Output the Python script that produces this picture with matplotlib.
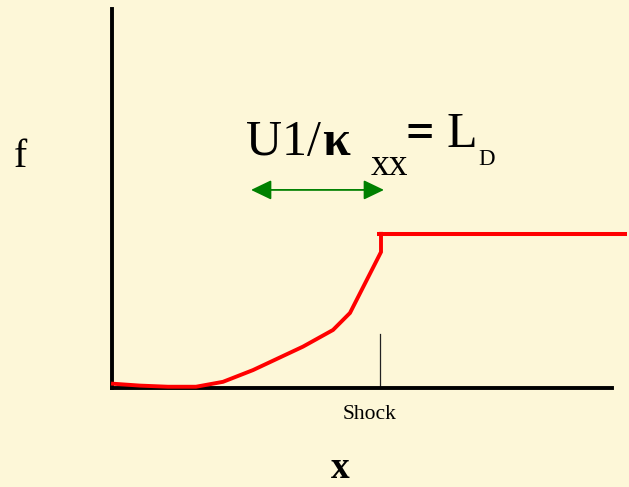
import matplotlib
matplotlib.use("Agg")
import matplotlib.pyplot as plt

# ---- data (axis units: x 0..10 across the x axis, f 0..1 up the f axis) ----
x_vals = [0.02, 0.56, 1.12, 1.68, 2.22, 2.82, 3.82, 4.42, 4.76, 5.38, 5.38]
f_vals = [0.010, 0.005, 0.002, 0.002, 0.015, 0.046, 0.108, 0.152, 0.197, 0.358, 0.406]
plateau_x = [5.30, 10.3]
plateau_f = [0.406, 0.406]
shock_x = 5.36
shock_tick_top = 0.142
arrow_left = 2.78
arrow_right = 5.44
arrow_y = 0.522

W, H = 629, 487
BG = "#fdf7d8"
SERIF = ["Liberation Serif", "DejaVu Serif"]

fig = plt.figure(figsize=(W / 100, H / 100), dpi=100, facecolor=BG)

# axes placed so the spines sit where the reference's axis lines are
left_px, right_px, top_px, bottom_px = 112, 612, 9, 387.5
ax = fig.add_axes([left_px / W, (H - bottom_px) / H,
                   (right_px - left_px) / W, (bottom_px - top_px) / H])
ax.set_facecolor(BG)
ax.set_xlim(0, 10)
ax.set_ylim(0, 1)
for s in ("top", "right"):
    ax.spines[s].set_visible(False)
for s in ("left", "bottom"):
    ax.spines[s].set_linewidth(2.8)
    ax.spines[s].set_color("black")
ax.set_xticks([])
ax.set_yticks([])

# distribution curve
ax.plot(x_vals, f_vals, color="#ff0000", lw=2.8, clip_on=False,
        solid_joinstyle="miter", zorder=3)
ax.plot(plateau_x, plateau_f, color="#ff0000", lw=2.9, clip_on=False,
        solid_capstyle="butt", zorder=3)

# shock marker
ax.plot([shock_x, shock_x], [0, shock_tick_top], color="#222222", lw=0.9, zorder=2)

# diffusion length arrow
ax.annotate("", xy=(arrow_right, arrow_y), xytext=(arrow_left, arrow_y),
            arrowprops=dict(arrowstyle="<|-|>,head_length=1.25,head_width=0.6",
                            mutation_scale=10, color="#008000", lw=1.3,
                            shrinkA=0, shrinkB=0))

def ftext(px, py, s, size, **kw):
    fig.text(px / W, (H - py) / H, s, fontsize=size, family=SERIF,
             va="baseline", **kw)

ftext(246, 155, "U1/", 36)
ftext(322, 155, "κ", 36, weight="bold")
ftext(371, 175, "xx", 27)
ftext(406, 147, "=", 36, weight="bold")
ftext(447, 147, "L", 36)
ftext(478, 165, "D", 16.5)
ftext(14, 167, "f", 28.5)
ftext(340.5, 478, "x", 27, ha="center", weight="bold")
ftext(370, 419, "Shock", 15.5, ha="center")

fig.savefig("out.png", dpi=100, facecolor=BG)
